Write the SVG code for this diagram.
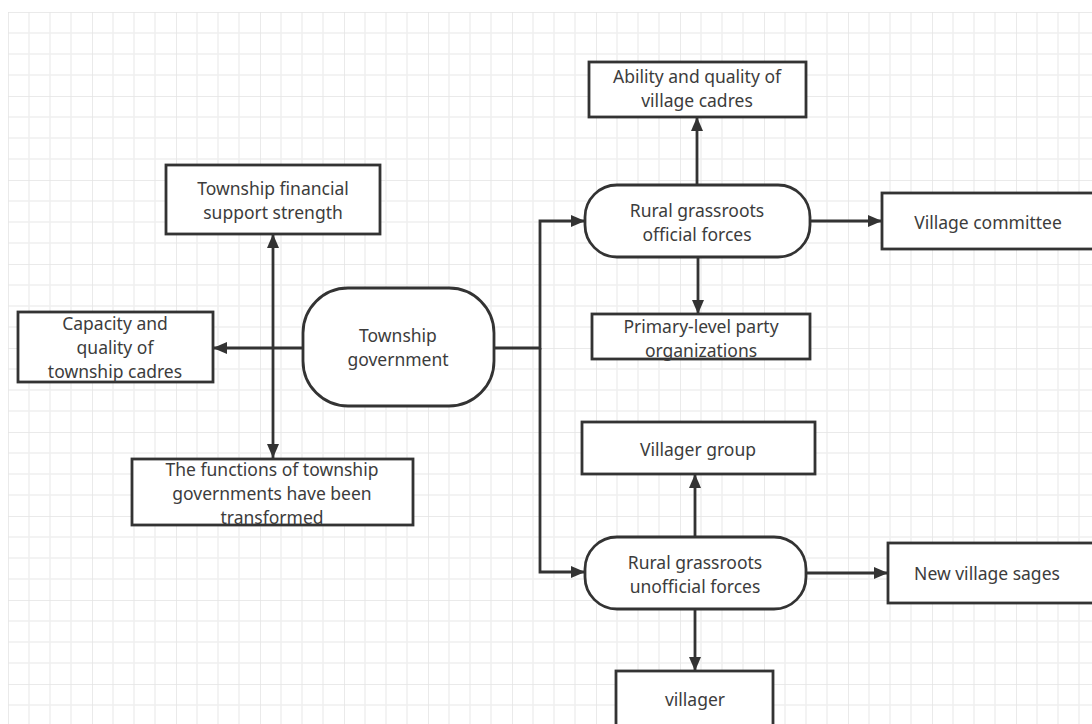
<svg xmlns="http://www.w3.org/2000/svg" width="1092" height="724" viewBox="0 0 1092 724">
<defs>
<pattern id="grid" x="8" y="12" width="84" height="84" patternUnits="userSpaceOnUse">
<path d="M21,0 V84 M42,0 V84 M63,0 V84 M0,21 H84 M0,42 H84 M0,63 H84" stroke="#f0f0f0" stroke-width="1.5" fill="none"/>
<path d="M0,0 V84 M0,0 H84" stroke="#e4e4e4" stroke-width="1.5" fill="none"/>
</pattern>
<marker id="arr" viewBox="0 0 14 12" refX="14" refY="6" markerWidth="14" markerHeight="12" markerUnits="userSpaceOnUse" orient="auto-start-reverse">
<path d="M0,0 L14,6 L0,12 Z" fill="#333"/>
</marker>
<style>
.n rect{fill:#fff;stroke:#333;stroke-width:2.8}
.n text{font-family:"Noto Sans","Open Sans",sans-serif;font-size:17.5px;fill:#3c3c3c;text-anchor:middle;dominant-baseline:central}
.c path{fill:none;stroke:#333;stroke-width:2.8}
</style>
</defs>
<rect width="1092" height="724" fill="#fff"/>
<rect x="8" y="12" width="1084" height="712" fill="url(#grid)"/>
<g class="c" id="connectors">
<path d="M303,348 H213" marker-end="url(#arr)"/>
<path d="M273,234 V458" marker-start="url(#arr)" marker-end="url(#arr)"/>
<path d="M494,348 H540 V221 H585" marker-end="url(#arr)"/>
<path d="M540,348 V572 H585" marker-end="url(#arr)"/>
<path d="M697,185 V117" marker-end="url(#arr)"/>
<path d="M810,221 H882" marker-end="url(#arr)"/>
<path d="M698,257 V314" marker-end="url(#arr)"/>
<path d="M695,537 V474" marker-end="url(#arr)"/>
<path d="M806,573 H888" marker-end="url(#arr)"/>
<path d="M695,609 V671" marker-end="url(#arr)"/>
</g>
<g class="n" id="financial"><rect x="166" y="165" width="214" height="69"/><text x="273" y="188">Township financial</text><text x="273" y="212">support strength</text></g>
<g class="n" id="capacity"><rect x="18" y="312" width="195" height="70"/><text x="115" y="323">Capacity and</text><text x="115" y="347">quality of</text><text x="115" y="371">township cadres</text></g>
<g class="n" id="gov"><rect x="303" y="288" width="191" height="118" rx="45" ry="45"/><text x="398" y="335">Township</text><text x="398" y="359">government</text></g>
<g class="n" id="functions"><rect x="132" y="459" width="281" height="66"/><text x="272" y="469">The functions of township</text><text x="272" y="493">governments have been</text><text x="272" y="517">transformed</text></g>
<g class="n" id="ability"><rect x="589" y="62" width="217" height="55"/><text x="697" y="76">Ability and quality of</text><text x="697" y="100">village cadres</text></g>
<g class="n" id="official"><rect x="585" y="185" width="225" height="72" rx="32" ry="32"/><text x="697" y="210">Rural grassroots</text><text x="697" y="234">official forces</text></g>
<g class="n" id="committee"><rect x="882" y="193" width="214" height="56"/><text x="988" y="222">Village committee</text></g>
<g class="n" id="party"><rect x="592" y="314" width="218" height="45"/><text x="701" y="326">Primary-level party</text><text x="701" y="350">organizations</text></g>
<g class="n" id="group"><rect x="582" y="422" width="233" height="52"/><text x="698" y="449">Villager group</text></g>
<g class="n" id="unofficial"><rect x="585" y="537" width="221" height="72" rx="32" ry="32"/><text x="695" y="562">Rural grassroots</text><text x="695" y="586">unofficial forces</text></g>
<g class="n" id="sages"><rect x="888" y="543" width="210" height="60"/><text x="987" y="573">New village sages</text></g>
<g class="n" id="villager"><rect x="616" y="671" width="157" height="60"/><text x="695" y="699">villager</text></g>
</svg>
